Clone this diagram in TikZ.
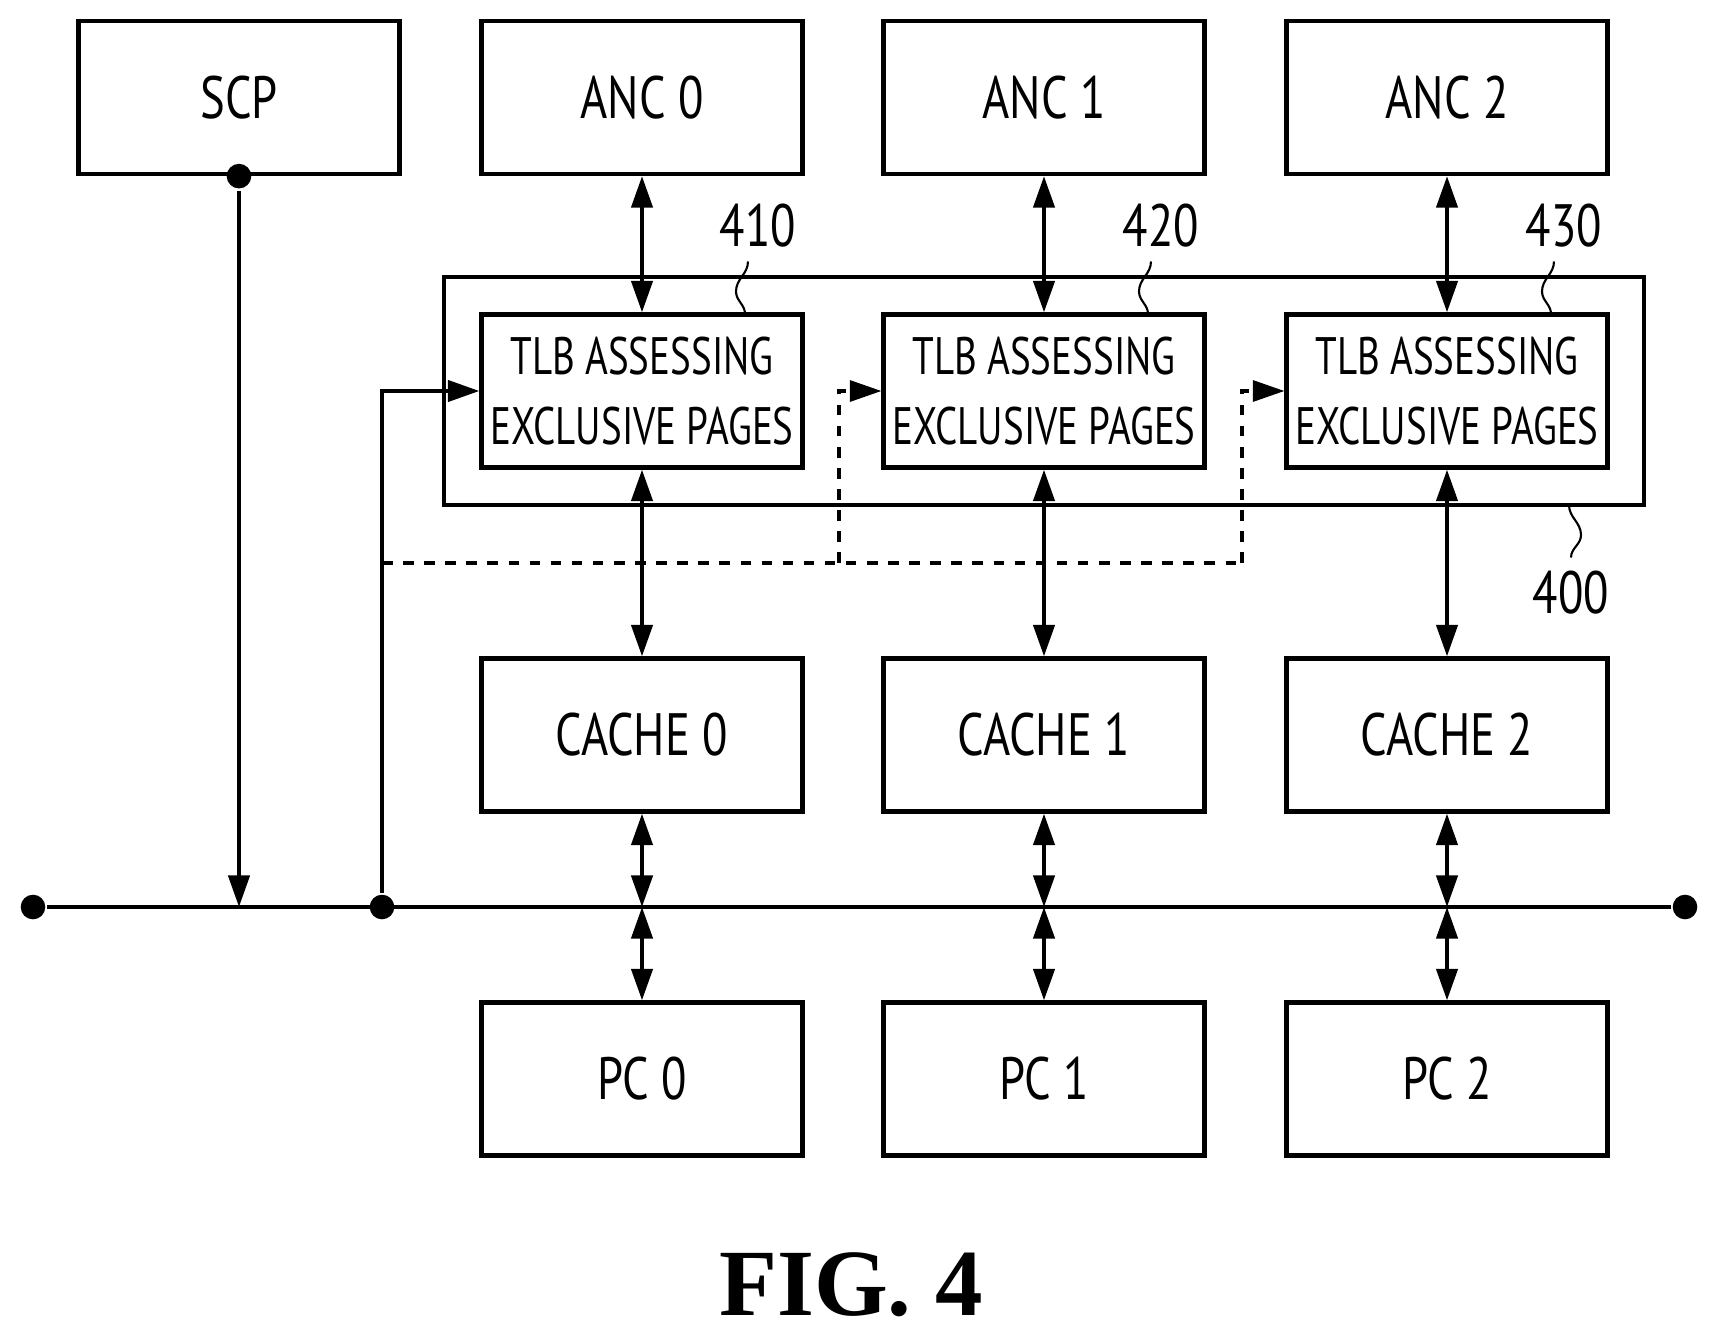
\documentclass[tikz,border=0pt]{standalone}
\usepackage{fontspec}
\setsansfont{PT Sans}[FakeStretch=0.78]
\newfontfamily\tlbfont{PT Sans}[FakeStretch=0.74]
\newfontfamily\figfont{Liberation Serif}
\usetikzlibrary{arrows.meta,positioning}
\begin{document}
\begin{tikzpicture}[x=1cm,y=1cm,line width=1.2pt,
    >={Triangle[length=9pt,width=6pt]},
    block/.style={draw,rectangle,minimum width=3.21cm,minimum height=1.53cm,
      inner sep=0pt,align=center,font=\sffamily\fontsize{17}{20}\selectfont},
    tlb/.style={block,font=\tlbfont\fontsize{15}{20}\selectfont},
    ref/.style={font=\sffamily\fontsize{17}{20}\selectfont},
    dot/.style={circle,fill,inner sep=0pt,minimum size=7pt},
    squig/.style={line width=0.6pt}]
  \useasboundingbox (0,0) rectangle (17.09,-13.34);
  % top row
  \node[block] (scp) at (2.39,-0.975) {SCP};
  \node[block] (anc0) at (6.42,-0.975) {ANC 0};
  \node[block] (anc1) at (10.44,-0.975) {ANC 1};
  \node[block] (anc2) at (14.47,-0.975) {ANC 2};
  % tlb row
  \node[tlb] (tlb0) at (6.42,-3.91) {TLB ASSESSING\\EXCLUSIVE PAGES};
  \node[tlb] (tlb1) at (10.44,-3.91) {TLB ASSESSING\\EXCLUSIVE PAGES};
  \node[tlb] (tlb2) at (14.47,-3.91) {TLB ASSESSING\\EXCLUSIVE PAGES};
  \draw (4.44,-2.77) rectangle (16.44,-5.05);
  % caches and cores
  \node[block] (c0) at (6.42,-7.35) {CACHE 0};
  \node[block] (c1) at (10.44,-7.35) {CACHE 1};
  \node[block] (c2) at (14.47,-7.35) {CACHE 2};
  \node[block] (pc0) at (6.42,-10.79) {PC 0};
  \node[block] (pc1) at (10.44,-10.79) {PC 1};
  \node[block] (pc2) at (14.47,-10.79) {PC 2};
  % bus
  \node[dot] (bl) at (0.33,-9.07) {};
  \node[dot] (br) at (16.85,-9.07) {};
  \node[dot] (bf) at (3.82,-9.07) {};
  \node[dot] (sd) at (scp.south) {};
  \draw (bl) -- (br);
  \draw[->] (sd) -- (scp.south |- bl);
  \foreach \i in {0,1,2} {
    \draw[<->] (anc\i) -- (tlb\i);
    \draw[<->] (tlb\i) -- (c\i);
    \draw[<->] (c\i) -- (c\i |- bl);
    \draw[<->] (pc\i |- bl) -- (pc\i);
  }
  % feed from bus
  \draw[->] (bf) |- (tlb0.west);
  \coordinate (d0) at (3.82,-5.63);
  \coordinate (d1) at (8.39,-5.63);
  \coordinate (d2) at (12.42,-5.63);
  \draw[dashed,line width=0.9pt] (d0) -- (d2);
  \draw[dashed,line width=0.9pt,->] (d1) |- (tlb1.west);
  \draw[dashed,line width=0.9pt,->] (d2) |- (tlb2.west);
  % reference labels
  \node[ref] (r410) at (7.58,-2.26) {410};
  \node[ref] (r420) at (11.61,-2.26) {420};
  \node[ref] (r430) at (15.64,-2.26) {430};
  \node[ref] (r400) at (15.71,-5.93) {400};
  \foreach \r/\x in {410/7.45,420/11.48,430/15.51}
    \draw[squig] (r\r.south) ++(-0.1,0) to[out=-90,in=90] ++(-0.12,-0.3)
      to[out=-90,in=90] (\x,-3.14);
  \draw[squig] (15.69,-5.05) to[out=-90,in=90] ++(0.12,-0.3)
      to[out=-90,in=90] (r400.north);
  \node[font=\figfont\bfseries\fontsize{27}{30}\selectfont] (fig) at (8.51,-12.85) {FIG. 4};
\end{tikzpicture}
\end{document}
